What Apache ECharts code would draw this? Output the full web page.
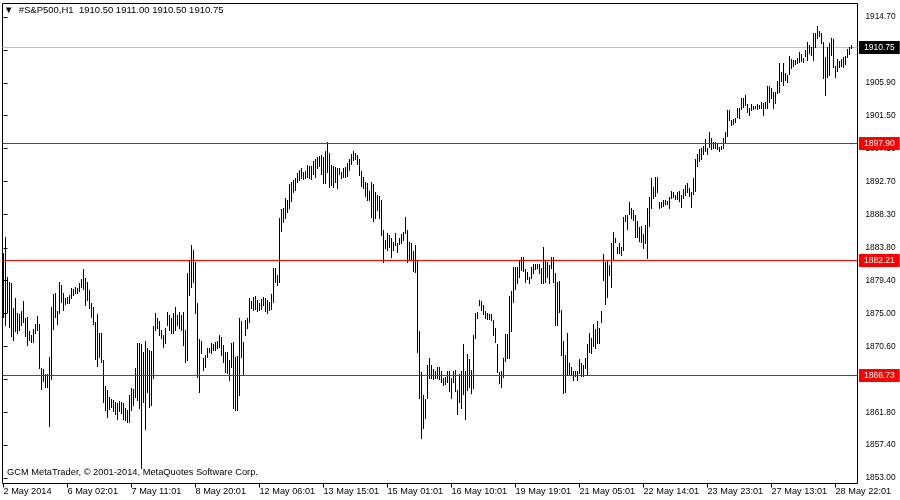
<!DOCTYPE html>
<html><head><meta charset="utf-8">
<script src="https://cdn.jsdelivr.net/npm/echarts@6/dist/echarts.min.js"></script>
<style>html,body{margin:0;padding:0;background:#fff}#c{width:900px;height:500px}</style>
</head><body><div id="c"></div>
<script>
const symbolTitle = '#S&P500,H1';
const lastOHLC = [1910.50, 1911.00, 1910.50, 1910.75];
const footerText = 'GCM MetaTrader, \u00a9 2001-2014, MetaQuotes Software Corp.';

// hourly bar highs (oldest -> newest)
const highs = [
1883.11,1885.25,1879.90,1879.23,1879.10,1875.75,1877.09,1875.08,1874.94,1875.35,
1876.69,1874.41,1874.54,1872.68,1872.14,1872.95,1873.61,1874.68,1873.61,1867.72,
1867.59,1866.91,1866.91,1869.19,1875.88,1877.62,1877.76,1875.35,1879.23,1878.83,
1877.76,1877.09,1877.22,1877.49,1878.43,1878.30,1878.56,1878.43,1879.10,1879.64,
1880.98,1879.77,1879.23,1878.16,1876.42,1875.88,1873.88,1874.94,1872.41,1872.41,
1868.79,1865.31,1864.78,1863.84,1863.57,1863.44,1863.17,1863.04,1863.31,1863.17,
1863.04,1862.37,1862.10,1864.11,1865.05,1864.92,1867.72,1871.07,1871.07,1870.93,
1869.86,1871.34,1870.40,1870.13,1870.00,1873.34,1875.08,1874.41,1874.01,1872.81,
1872.14,1873.07,1875.21,1874.81,1874.41,1875.08,1875.88,1874.81,1875.21,1874.81,
1875.21,1872.81,1880.44,1882.18,1884.18,1883.51,1881.91,1876.42,1871.61,1871.34,
1869.06,1869.46,1870.40,1870.40,1871.07,1870.93,1871.20,1871.34,1872.14,1871.88,
1870.80,1869.86,1869.86,1868.79,1871.07,1871.20,1869.19,1869.33,1874.41,1874.01,
1871.20,1874.15,1874.41,1877.09,1876.69,1877.22,1877.36,1876.82,1876.42,1876.96,
1877.22,1877.09,1876.82,1876.55,1877.62,1881.04,1881.04,1880.17,1887.74,1888.94,
1889.07,1890.47,1890.21,1892.35,1892.62,1892.88,1893.15,1893.82,1894.22,1894.49,
1893.95,1894.09,1894.89,1894.76,1894.76,1895.43,1895.70,1895.96,1896.10,1896.23,
1895.96,1896.77,1897.97,1896.50,1894.89,1894.76,1894.62,1894.49,1894.49,1893.95,
1894.49,1894.62,1895.16,1895.70,1896.37,1896.77,1896.50,1896.23,1895.70,1894.09,
1893.28,1892.62,1892.48,1891.41,1892.62,1892.35,1891.27,1890.87,1890.74,1890.21,
1886.19,1884.85,1885.79,1885.52,1885.12,1884.58,1885.79,1884.45,1885.12,1885.65,
1885.92,1887.93,1886.19,1884.58,1884.45,1883.38,1884.18,1882.04,1872.68,1867.18,
1864.11,1863.57,1868.12,1869.06,1868.12,1867.59,1867.32,1867.85,1867.85,1867.32,
1866.39,1866.52,1867.32,1867.32,1866.39,1867.32,1867.45,1864.78,1866.91,1867.32,
1870.93,1867.32,1869.59,1868.93,1867.45,1872.14,1875.08,1875.21,1876.82,1876.69,
1876.15,1875.35,1875.08,1874.94,1874.94,1874.15,1873.07,1870.93,1867.18,1867.32,
1869.06,1872.28,1872.28,1877.36,1878.03,1881.24,1881.24,1881.24,1882.04,1882.58,
1882.58,1880.98,1880.57,1879.90,1881.24,1881.64,1881.64,1881.64,1881.64,1881.11,
1883.91,1882.04,1881.91,1881.51,1882.58,1882.58,1880.44,1879.23,1879.37,1875.48,
1871.34,1869.46,1872.41,1868.39,1867.85,1867.32,1867.32,1867.32,1868.93,1868.39,
1868.12,1869.06,1870.93,1872.41,1871.74,1873.61,1872.95,1874.01,1873.07,1875.35,
1882.98,1881.91,1882.18,1881.51,1884.45,1885.92,1885.12,1883.91,1884.45,1883.91,
1887.93,1888.20,1888.20,1889.94,1889.14,1888.87,1888.20,1887.39,1886.59,1886.73,
1885.65,1886.86,1889.14,1890.61,1893.15,1891.95,1893.28,1893.28,1889.94,1889.94,
1890.21,1890.21,1890.07,1890.61,1891.41,1891.27,1890.87,1891.27,1891.41,1890.87,
1891.68,1892.22,1892.48,1891.81,1891.27,1893.15,1895.70,1896.37,1897.04,1897.17,
1897.44,1898.37,1897.17,1899.31,1898.51,1897.97,1897.97,1897.71,1897.30,1897.44,
1898.51,1899.31,1902.25,1902.25,1900.91,1901.04,1901.18,1902.52,1902.52,1903.86,
1903.86,1904.26,1903.05,1902.52,1903.05,1902.79,1902.79,1903.05,1902.92,1903.32,
1903.19,1903.32,1905.47,1905.47,1905.20,1904.66,1904.66,1906.14,1908.54,1907.34,
1908.54,1907.21,1906.94,1909.48,1909.08,1908.94,1908.94,1909.21,1910.01,1909.75,
1909.21,1910.28,1911.35,1910.95,1910.68,1912.56,1912.56,1913.49,1912.83,1912.56,
1911.35,1909.35,1910.68,1911.22,1911.89,1911.75,1908.14,1909.08,1908.81,1909.08,
1909.35,1909.48,1910.41,1910.68,1911.00
];
// hourly bar lows (oldest -> newest)
const lows = [
1874.54,1873.48,1875.21,1873.21,1872.01,1871.47,1872.68,1872.41,1872.81,1873.48,
1873.88,1872.01,1870.80,1871.47,1871.20,1871.20,1872.41,1872.81,1867.72,1864.92,
1865.99,1865.18,1865.18,1859.96,1866.25,1872.95,1874.54,1873.61,1875.08,1876.55,
1875.48,1876.28,1876.42,1876.42,1877.09,1877.49,1877.76,1877.76,1878.03,1878.56,
1878.30,1876.15,1876.82,1875.75,1874.54,1873.61,1868.93,1867.99,1869.19,1868.52,
1863.17,1862.10,1861.17,1862.23,1862.50,1861.97,1861.57,1860.90,1861.97,1861.70,
1860.90,1860.76,1860.49,1860.49,1862.10,1862.77,1863.84,1863.44,1862.37,1854.34,
1863.17,1859.56,1864.51,1862.50,1862.80,1866.39,1872.81,1873.07,1872.14,1871.74,
1870.53,1871.07,1873.48,1872.81,1872.41,1872.41,1872.81,1873.48,1873.07,1872.81,
1870.80,1868.52,1868.79,1877.49,1878.56,1879.23,1875.08,1866.52,1864.51,1869.73,
1867.45,1867.85,1869.19,1869.86,1869.73,1870.13,1870.13,1870.40,1870.53,1869.46,
1868.52,1867.18,1867.05,1866.12,1867.85,1862.37,1862.10,1862.10,1864.11,1869.19,
1866.79,1872.14,1873.07,1873.88,1875.75,1875.48,1875.61,1875.35,1875.48,1875.61,
1876.15,1875.35,1875.08,1875.48,1875.61,1876.55,1879.23,1878.83,1879.23,1886.06,
1887.26,1887.79,1888.60,1889.14,1890.07,1891.27,1891.54,1892.62,1892.88,1893.15,
1893.02,1893.15,1893.28,1893.15,1893.02,1893.68,1893.28,1894.49,1894.76,1893.68,
1892.48,1892.48,1893.95,1891.95,1892.22,1891.95,1892.62,1891.81,1893.68,1893.15,
1893.28,1893.28,1893.42,1894.22,1895.03,1895.56,1895.70,1895.03,1893.55,1892.08,
1891.81,1890.74,1890.21,1890.21,1887.93,1887.39,1887.79,1888.87,1887.79,1885.52,
1881.91,1883.78,1883.51,1883.91,1882.58,1883.51,1884.18,1883.24,1884.31,1884.45,
1884.85,1885.79,1881.91,1882.18,1882.31,1880.71,1880.57,1869.86,1863.71,1858.36,
1859.69,1861.03,1863.71,1866.39,1866.39,1866.25,1866.39,1866.39,1866.25,1865.85,
1865.45,1865.58,1865.85,1864.65,1863.71,1865.85,1864.65,1861.57,1863.17,1862.37,
1864.24,1860.90,1864.78,1865.18,1864.38,1865.05,1871.74,1874.41,1876.15,1875.48,
1874.94,1874.41,1874.28,1874.28,1874.15,1872.14,1871.20,1867.18,1865.72,1865.18,
1866.52,1868.66,1869.06,1869.06,1872.68,1876.55,1878.30,1879.10,1879.90,1880.84,
1880.71,1879.23,1879.64,1879.10,1879.77,1880.44,1880.98,1881.11,1880.44,1879.10,
1879.10,1879.23,1879.90,1879.10,1881.11,1879.23,1873.48,1873.48,1875.21,1869.46,
1864.38,1864.51,1866.79,1866.79,1866.91,1866.12,1866.65,1866.12,1867.05,1866.65,
1866.65,1867.72,1866.79,1869.86,1869.73,1870.67,1870.40,1871.07,1871.07,1873.88,
1879.50,1876.28,1877.22,1880.17,1878.56,1882.18,1884.58,1883.11,1883.11,1882.84,
1883.51,1887.39,1886.33,1888.33,1887.79,1887.53,1885.25,1885.25,1884.72,1884.58,
1883.78,1884.45,1882.44,1886.73,1889.14,1890.47,1890.74,1891.27,1889.14,1889.27,
1889.40,1889.67,1889.67,1889.14,1890.47,1890.61,1890.34,1890.34,1890.07,1889.27,
1890.47,1890.87,1891.27,1890.74,1889.27,1891.01,1891.41,1894.76,1895.43,1895.70,
1896.37,1896.77,1896.37,1897.30,1897.04,1897.17,1897.17,1897.04,1896.77,1897.04,
1897.17,1897.84,1898.78,1900.91,1900.24,1900.38,1900.64,1901.32,1901.18,1902.39,
1902.65,1902.92,1901.98,1901.58,1902.25,1902.39,1902.52,1902.39,1902.52,1902.52,
1901.58,1902.52,1902.52,1903.32,1903.86,1902.52,1903.19,1904.53,1904.66,1906.14,
1905.60,1906.27,1906.00,1907.07,1907.87,1908.14,1908.41,1908.54,1908.68,1908.81,
1908.68,1909.48,1908.94,1909.88,1909.61,1908.94,1910.68,1911.89,1912.16,1911.22,
1906.53,1904.26,1906.67,1906.94,1909.61,1908.01,1906.67,1907.47,1908.01,1908.14,
1908.01,1908.41,1909.35,1909.75,1910.50
];

// time-axis labels and the bar index each one sits at
const timeLabelBars = [0,32,64,96,128,160,192,224,256,288,320,352,384,416];
const timeLabels = ['2 May 2014','6 May 02:01','7 May 11:01','8 May 20:01','12 May 06:01','13 May 15:01','15 May 01:01','16 May 10:01','19 May 19:01','21 May 05:01','22 May 14:01','23 May 23:01','27 May 13:01','28 May 22:01'];

// price-axis labels
const priceTicks = [1853.00,1857.40,1861.80,1866.20,1870.60,1875.00,1879.40,1883.80,1888.30,1892.70,1897.10,1901.50,1905.90,1910.30,1914.70];

// horizontal levels
const levelLines = [1897.90, 1882.21, 1866.73];
const bidPrice = 1910.75;

const FONT = '"Liberation Sans", Arial, sans-serif';
const chart = echarts.init(document.getElementById('c'), null, {renderer: 'canvas'});
const bars = highs.map((h, i) => [i, h, lows[i]]);

function renderBar(params, api) {
  const i = api.value(0);
  const top = api.coord([i, api.value(1)]);
  const bot = api.coord([i, api.value(2)]);
  const x = Math.floor(top[0]) + 0.5;
  const y1 = Math.round(top[1]);
  const y2 = Math.max(Math.round(bot[1]), y1) + 1;
  return {type: 'line', silent: true,
    shape: {x1: x, y1: y1, x2: x, y2: y2},
    style: {stroke: '#000', lineWidth: 1, lineCap: 'butt'}};
}

function makeLevelRenderer(lineColor, boxColor) {
  return function (params, api) {
    const v = api.value(1);
    const p = api.coord([0, v]);
    const cs = params.coordSys;
    const y = Math.round(p[1]) + 0.5;
    return {type: 'group', children: [
      {type: 'line', silent: true,
        shape: {x1: cs.x, y1: y, x2: cs.x + cs.width, y2: y},
        style: {stroke: lineColor, lineWidth: 1}},
      {type: 'text', silent: true, z2: 10,
        style: {text: v.toFixed(2), x: cs.x + cs.width + 1.5, y: y,
          verticalAlign: 'middle', align: 'left',
          fill: '#fff', backgroundColor: boxColor, padding: [2, 5, 2, 5],
          font: '8.5px ' + FONT}}
    ]};
  };
}

const option = {
  animation: false,
  backgroundColor: '#fff',
  title: [
    {text: '\u25BC  ' + symbolTitle + '  ' + lastOHLC.map(v => v.toFixed(2)).join(' '),
      left: 4, top: 5, padding: 0,
      textStyle: {fontFamily: FONT, fontSize: 9.5, fontWeight: 'normal', color: '#000'}},
    {text: footerText, left: 7, top: 468, padding: 0,
      textStyle: {fontFamily: FONT, fontSize: 9.3, fontWeight: 'normal', color: '#000'}}
  ],
  grid: {left: 2.5, top: 3.5, width: 855, height: 480, show: true,
    borderColor: '#000', borderWidth: 1, backgroundColor: '#fff'},
  xAxis: {type: 'value', min: -0.5, max: 427,
    axisLine: {show: false}, splitLine: {show: false},
    axisTick: {show: true, customValues: timeLabelBars, length: 4, lineStyle: {color: '#000'}},
    axisLabel: {customValues: timeLabelBars, align: 'left', margin: 3,
      formatter: v => timeLabels[timeLabelBars.indexOf(Math.round(v))] || '',
      color: '#000', fontFamily: FONT, fontSize: 9.2}},
  yAxis: {type: 'value', position: 'right', min: 1852.264, max: 1916.507, scale: true,
    axisLine: {show: false}, splitLine: {show: false},
    axisTick: {show: true, customValues: priceTicks, length: 4, lineStyle: {color: '#000'}},
    axisLabel: {customValues: priceTicks, formatter: v => v.toFixed(2), margin: 8,
      color: '#000', fontFamily: FONT, fontSize: 8.3}},
  series: [
    {type: 'custom', name: 'bid', clip: false, z: 1,
      data: [[0, bidPrice]], encode: {x: 0, y: 1},
      renderItem: makeLevelRenderer('#c0c0c0', '#000')},
    {type: 'custom', name: 'bars', z: 2, data: bars, encode: {x: 0, y: [1, 2]},
      renderItem: renderBar},
    {type: 'custom', name: 'levels', clip: false, z: 3,
      data: levelLines.map(v => [0, v]), encode: {x: 0, y: 1},
      renderItem: makeLevelRenderer('#ff0000', '#ff0000')}
  ]
};
chart.setOption(option);
</script></body></html>
